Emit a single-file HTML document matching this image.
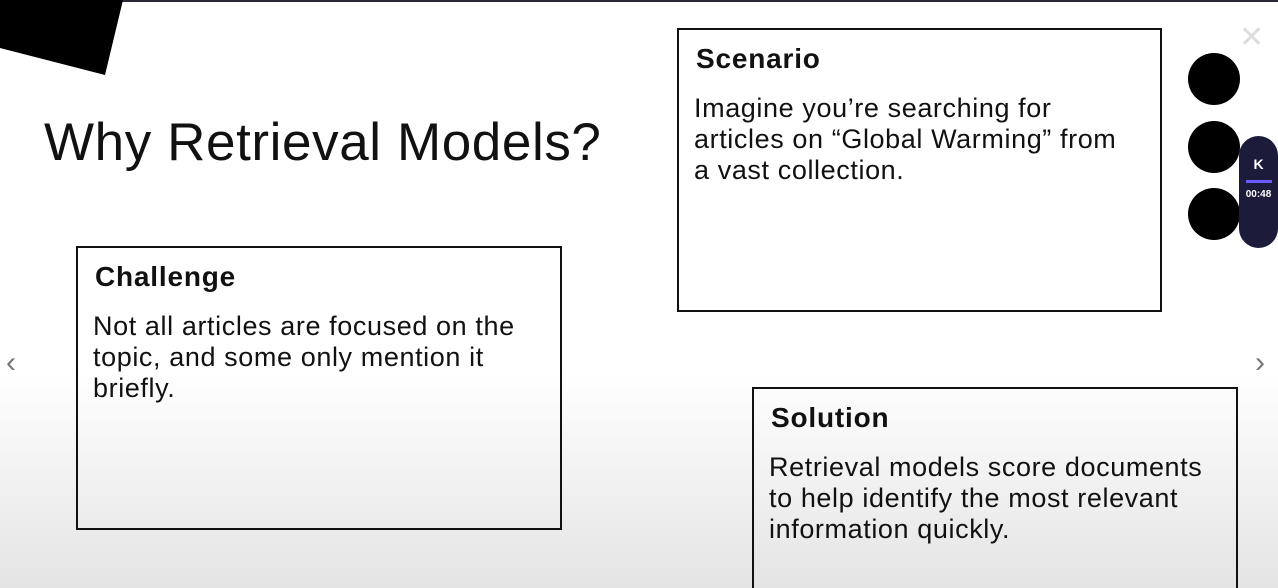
<!DOCTYPE html>
<html style="overflow:hidden;height:588px"><head><style>
body{margin:0;width:1278px;height:588px;overflow:hidden;position:relative;font-family:"Liberation Sans",sans-serif;background:linear-gradient(#fff 0,#fff 370px,#e4e4e4 588px);}
.top{position:absolute;left:0;top:0;width:1278px;height:2px;background:#2a2838}
.box{position:absolute;border:2px solid #111;box-sizing:border-box;color:#111}
.box h3{margin:0;position:absolute;left:17px;font-size:28px;font-weight:bold;letter-spacing:0.8px}
.box p{margin:0;position:absolute;left:15px;font-size:27px;line-height:31px;letter-spacing:0.6px;white-space:nowrap}
.dot{position:absolute;left:1188px;width:52px;height:52px;border-radius:50%;background:#000}
</style></head><body>
<div class="top"></div>
<svg style="position:absolute;left:0;top:0" width="130" height="80"><polygon points="0,0 123,0 105,75 0,48" fill="#000"/></svg>
<div style="position:absolute;left:44px;top:112px;font-size:53px;color:#111;letter-spacing:0.6px">Why Retrieval Models?</div>
<div class="box" style="left:677px;top:28px;width:485px;height:284px"><h3 style="top:13px">Scenario</h3><p style="top:63px">Imagine you’re searching for<br>articles on “Global Warming” from<br>a vast collection.</p></div>
<div class="box" style="left:76px;top:246px;width:486px;height:284px"><h3 style="top:13px">Challenge</h3><p style="top:63px">Not all articles are focused on the<br>topic, and some only mention it<br>briefly.</p></div>
<div class="box" style="left:752px;top:387px;width:486px;height:220px"><h3 style="top:13px">Solution</h3><p style="top:63px">Retrieval models score documents<br>to help identify the most relevant<br>information quickly.</p></div>
<div class="dot" style="top:53px"></div><div class="dot" style="top:121px"></div><div class="dot" style="top:188px"></div>
<div style="position:absolute;left:1239px;top:20px;font-size:30px;color:#ddd">✕</div>
<div style="position:absolute;left:1239px;top:136px;width:39px;height:112px;border-radius:20px;background:#1c1b3a;color:#fff;font-size:10px;text-align:center">
<div style="margin-top:20px;font-weight:bold;font-size:14px">K</div>
<div style="margin:8px auto 0;width:26px;height:3px;background:#6a5cff"></div>
<div style="margin-top:6px;font-weight:bold">00:48</div></div>
<div style="position:absolute;left:6px;top:346px;font-size:30px;color:#777">‹</div>
<div style="position:absolute;left:1255px;top:346px;font-size:30px;color:#777">›</div>
</body></html>
